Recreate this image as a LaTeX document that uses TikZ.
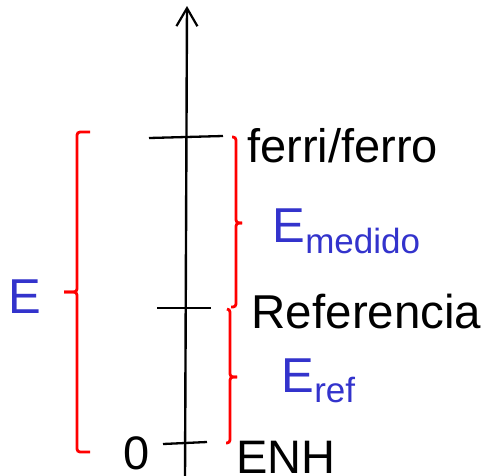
\documentclass[tikz,border=0pt]{standalone}
\usepackage{fontspec}
\setmainfont{Liberation Sans}
\usetikzlibrary{arrows.meta}
\definecolor{lblue}{RGB}{51,51,204}
\tikzset{
  axisline/.style={line width=2.4pt, black},
  tickline/.style={line width=2.3pt, black},
  bracel/.style={line width=2.8pt, red, rounded corners=3pt},
  bigtxt/.style={inner sep=0pt, anchor=base west, font=\fontsize{47}{47}\selectfont},
  lbl/.style={inner sep=0pt, anchor=base west, text=lblue, font=\fontsize{49}{49}\selectfont},
  sublbl/.style={inner sep=0pt, anchor=base west, text=lblue, font=\fontsize{35}{35}\selectfont}
}
\begin{document}
\begin{tikzpicture}[x=1pt,y=-1pt]
\useasboundingbox (0,0) rectangle (487,475);
% axis
\coordinate (axb) at (185,478);
\coordinate (axt) at (187,6);
\draw[axisline, -{Straight Barb[length=18pt,width=21pt,line width=2.2pt]}] (axb) -- (axt);
% ticks
\coordinate (t1a) at (149,138); \coordinate (t1b) at (223,136);
\coordinate (t2a) at (157,308); \coordinate (t2b) at (211,308);
\coordinate (t3a) at (163,444); \coordinate (t3b) at (207,442);
\draw[tickline] (t1a) -- (t1b);
\draw[tickline] (t2a) -- (t2b);
\draw[tickline] (t3a) -- (t3b);
% left brace
\draw[bracel] (90,132) -- (77,132) -- (77,292) -- (64,292);
\draw[bracel] (64,292) -- (77,292) -- (77,452) -- (90,452);
% upper right brace
\draw[bracel] (232,137) -- (236,137) -- (236,223) -- (242,223);
\draw[bracel] (242,223) -- (236,223) -- (236,307) -- (231,307);
% lower right brace
\draw[bracel] (227,309) -- (230,309) -- (230,377) -- (237,377);
\draw[bracel] (237,377) -- (230,377) -- (230,443) -- (226,443);
% texts
\node[bigtxt] (ferri) at (247,162) {ferri/ferro};
\node[bigtxt, font=\fontsize{47.5}{47.5}\selectfont] (ref) at (251.5,328) {Referencia};
\node[bigtxt] (enh) at (236,473) {ENH};
\node[bigtxt] (zero) at (123,469) {0};
\node[lbl] (E) at (8,313) {E};
\node[lbl] (Em) at (272,242) {E};
\node[sublbl] (Ems) at (Em.base east) [yshift=-11pt] {medido};
\node[lbl] (Er) at (281,392) {E};
\node[sublbl] (Ers) at (Er.base east) [yshift=-10pt] {ref};
\end{tikzpicture}
\end{document}
